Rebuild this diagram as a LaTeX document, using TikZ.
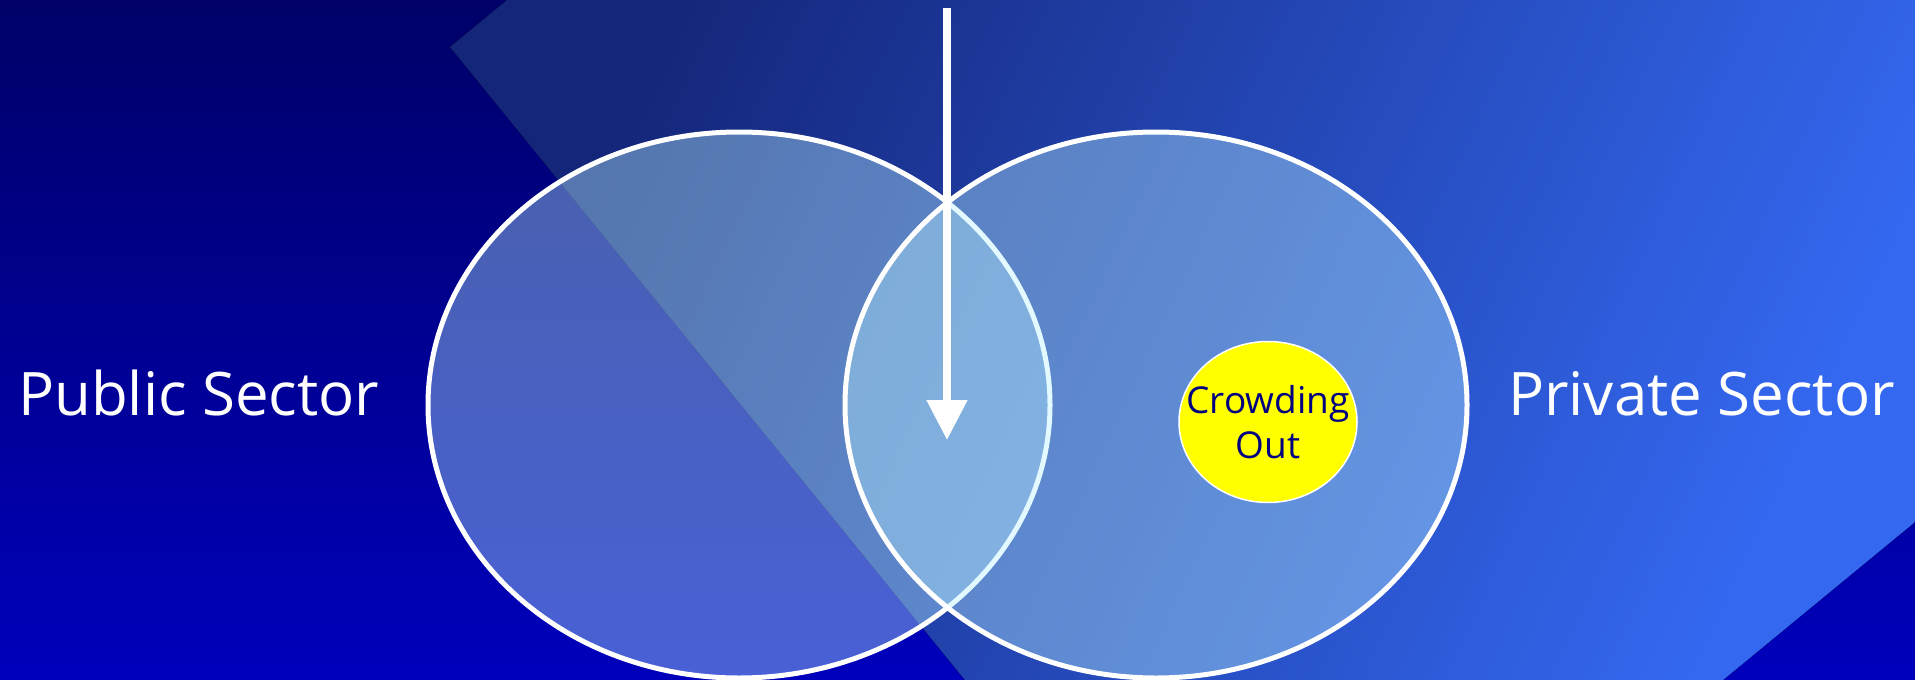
\documentclass[tikz,border=0pt]{standalone}
\usepackage{fontspec}
\setmainfont{Open Sans}
\usetikzlibrary{arrows.meta,shapes.geometric}
\definecolor{bgtop}{HTML}{000068}
\definecolor{bgbot}{HTML}{0000BC}
\definecolor{panA}{HTML}{14267A}
\definecolor{panB}{HTML}{3468F0}
\definecolor{haze}{HTML}{B8F0FF}
\definecolor{navy}{HTML}{000080}
\definecolor{sun}{HTML}{FFFF00}
\tikzset{
  sector/.style={ellipse,draw=white,line width=5pt,fill=haze,fill opacity=.4,
    minimum width=622pt,minimum height=546pt,inner sep=0pt},
  lbl/.style={text=white,font=\fontsize{60}{72}\selectfont,inner sep=0pt},
  crowdbox/.style={ellipse,draw=white,line width=1.5pt,fill=sun,
    minimum width=178pt,minimum height=161pt,inner sep=0pt},
  crowdtxt/.style={text=navy,align=center,inner sep=0pt,
    font=\fontsize{37}{45}\selectfont},
  ar/.style={-{Triangle[length=40pt,width=39pt]},draw=white,line width=8pt},
}
\begin{document}
\begin{tikzpicture}[x=1pt,y=-1pt]
  \useasboundingbox (0,0) rectangle (1915,680);
  % backdrop
  \fill[top color=bgtop,bottom color=bgbot] (0,0) rectangle (1915,680);
  \fill[top color=panA,bottom color=panB,shading angle=65]
    (507,0) -- (1915,0) -- (1915,522) -- (1723,680) -- (965,680) -- (450,47) -- cycle;

  \node[sector] (pubell) at (739,405) {};
  \node[sector] (privell) at (1156,405) {};
  \node[crowdbox] (crowd) at (1268,422) {};
  \node[crowdtxt] (crowdlbl) at (crowd.center) {Crowding\\Out};

  \node[lbl,anchor=base west] (pubsec) at (18,415) {Public Sector};
  \node[lbl,anchor=base west] (privsec) at (1508,415) {Private Sector};

  \coordinate (src) at (947,8);
  \coordinate (tip) at (947,440);
  \draw[ar] (src) -- (tip);
\end{tikzpicture}
\end{document}
